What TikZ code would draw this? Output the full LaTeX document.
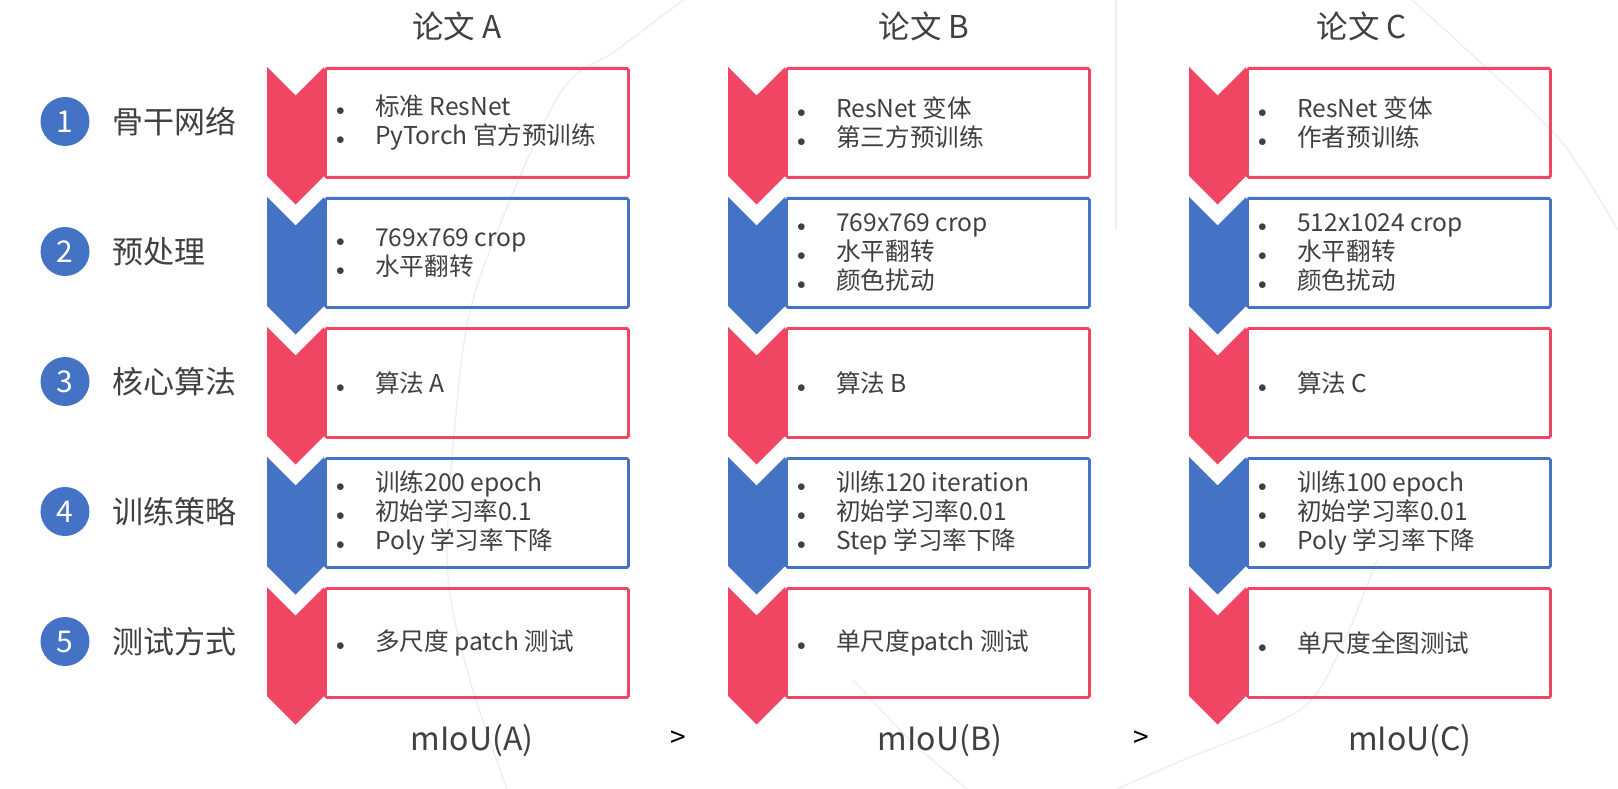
\documentclass[tikz,border=0pt]{standalone}
\usepackage{fontspec}
\setmainfont{Noto Sans CJK SC}
\definecolor{pred}{HTML}{F04563}
\definecolor{pblue}{HTML}{4472C4}
\definecolor{ptext}{HTML}{404040}
\definecolor{faint}{HTML}{EFEFEF}
\newcommand{\bl}[1]{\makebox[39pt][l]{\fontsize{19}{19}\selectfont$\bullet$}#1}
\tikzset{
  cbox/.style={line width=2.8pt, rounded corners=1.5pt, minimum width=303pt, minimum height=109pt, inner sep=0pt, anchor=north west},
  bodytxt/.style={anchor=west, align=left, inner sep=0pt, text=ptext, font=\fontsize{24.6}{29}\selectfont},
  titletxt/.style={inner sep=0pt, text=ptext, font=\fontsize{31.5}{31.5}\selectfont},
  rowlbl/.style={anchor=west, inner sep=0pt, text=ptext, font=\fontsize{31}{31}\selectfont},
  numdot/.style={circle, fill=pblue, minimum size=49pt, inner sep=0pt, text=white, font=\fontsize{30}{30}\selectfont},
  miou/.style={inner sep=0pt, text=ptext, font=\fontsize{32}{32}\selectfont},
  gtsign/.style={inner sep=0pt, text=black, font=\fontsize{28}{28}\selectfont},
  faintline/.style={draw=faint, line width=1.5pt}
}
\begin{document}
\begin{tikzpicture}[x=1pt,y=-1pt]
\path[use as bounding box, fill=white] (0,0) rectangle (1618,789);
% faint background curves
\draw[faintline] plot[smooth] coordinates {(690,-5) (617,50) (560,93) (490,250) (463,350) (447,560) (470,680) (507,789)};
\draw[faintline] (1116,0) -- (1116,230);
\draw[faintline] plot[smooth] coordinates {(1412,0) (1467,50) (1560,140) (1618,230)};
\draw[faintline] plot[smooth] coordinates {(1377,560) (1340,650) (1300,710) (1183,760) (1117,789)};
\draw[faintline] plot[smooth] coordinates {(853,680) (910,740) (967,789)};
% chevrons and boxes
\foreach \c/\x in {A/267,B/728,C/1189}{
  \foreach \r/\col in {1/pred,2/pblue,3/pred,4/pblue,5/pred}{
    \pgfmathsetmacro\y{67+130*(\r-1)}
    \fill[\col] (\x,\y) -- ++(28.5,28.5) -- ++(28.5,-28.5) -- ++(0,109) -- ++(-28.5,28.5) -- ++(-28.5,-28.5) -- cycle;
    \node[cbox, draw=\col] (b\c\r) at (\x+57,\y) {};
  }
}
% titles
\node[titletxt] (tA) at (457,26) {论文 A};
\node[titletxt] (tB) at (924,26) {论文 B};
\node[titletxt] (tC) at (1362,26) {论文 C};
% row labels
\foreach \r/\t in {1/骨干网络,2/预处理,3/核心算法,4/训练策略,5/测试方式}{
  \pgfmathsetmacro\yc{121.5+130*(\r-1)}
  \node[numdot] (n\r) at (65,\yc) {\r};
  \node[rowlbl] (l\r) at (112,\yc) {\t};
}
% column A
\node[bodytxt] (xA1) at ([xshift=12pt]bA1.west) {\bl{标准 ResNet}\\\bl{PyTorch 官方预训练}};
\node[bodytxt] (xA2) at ([xshift=12pt]bA2.west) {\bl{769x769 crop}\\\bl{水平翻转}};
\node[bodytxt] (xA3) at ([xshift=12pt]bA3.west) {\bl{算法 A}};
\node[bodytxt] (xA4) at ([xshift=12pt]bA4.west) {\bl{训练200 epoch}\\\bl{初始学习率0.1}\\\bl{Poly 学习率下降}};
\node[bodytxt] (xA5) at ([xshift=12pt]bA5.west) {\bl{多尺度 patch 测试}};
% column B
\node[bodytxt] (xB1) at ([xshift=12pt]bB1.west) {\bl{ResNet 变体}\\\bl{第三方预训练}};
\node[bodytxt] (xB2) at ([xshift=12pt]bB2.west) {\bl{769x769 crop}\\\bl{水平翻转}\\\bl{颜色扰动}};
\node[bodytxt] (xB3) at ([xshift=12pt]bB3.west) {\bl{算法 B}};
\node[bodytxt] (xB4) at ([xshift=12pt]bB4.west) {\bl{训练120 iteration}\\\bl{初始学习率0.01}\\\bl{Step 学习率下降}};
\node[bodytxt] (xB5) at ([xshift=12pt]bB5.west) {\bl{单尺度patch 测试}};
% column C
\node[bodytxt] (xC1) at ([xshift=12pt]bC1.west) {\bl{ResNet 变体}\\\bl{作者预训练}};
\node[bodytxt] (xC2) at ([xshift=12pt]bC2.west) {\bl{512x1024 crop}\\\bl{水平翻转}\\\bl{颜色扰动}};
\node[bodytxt] (xC3) at ([xshift=12pt]bC3.west) {\bl{算法 C}};
\node[bodytxt] (xC4) at ([xshift=12pt]bC4.west) {\bl{训练100 epoch}\\\bl{初始学习率0.01}\\\bl{Poly 学习率下降}};
\node[bodytxt] (xC5) at ([xshift=12pt]bC5.west) {\bl{单尺度全图测试}};
% results
\node[miou] (mA) at (472,741) {mIoU(A)};
\node[miou] (mB) at (940,741) {mIoU(B)};
\node[miou] (mC) at (1410,741) {mIoU(C)};
\node[gtsign] (g1) at (678,739) {>};
\node[gtsign] (g2) at (1141,739) {>};
\end{tikzpicture}
\end{document}
